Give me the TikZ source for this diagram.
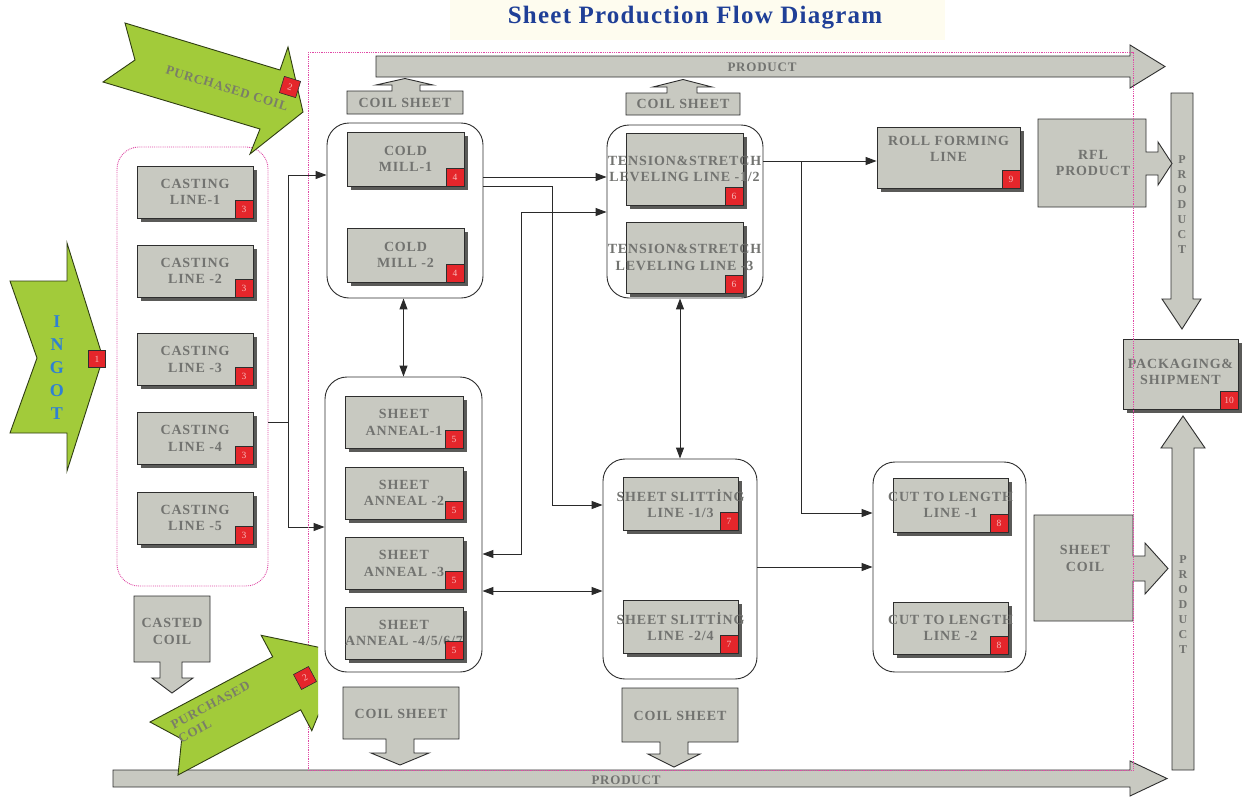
\documentclass[tikz,border=0pt]{standalone}
\usepackage{fontspec}
\setmainfont{Liberation Serif}
\newfontfamily\lblfont[LetterSpace=6]{Liberation Serif}
\newfontfamily\ttlfont[LetterSpace=5]{Liberation Serif}
\usetikzlibrary{arrows.meta,shadows}

\definecolor{boxgray}{HTML}{C8C9C1}
\definecolor{txtgray}{HTML}{727370}
\definecolor{shadowc}{HTML}{5A5A58}
\definecolor{edgec}{HTML}{2E2E2E}
\definecolor{linec}{HTML}{2A2A2A}
\definecolor{badgered}{HTML}{E5262B}
\definecolor{badgetxt}{HTML}{F7B9B9}
\definecolor{greenc}{HTML}{A2CB3A}
\definecolor{greenedge}{HTML}{2F3D12}
\definecolor{pinkc}{HTML}{E04AA6}
\definecolor{titleblue}{HTML}{1F3F97}
\definecolor{ingotblue}{HTML}{2F80D4}
\definecolor{titlebg}{HTML}{FEFCEF}
\definecolor{greentxt}{HTML}{7A7E68}

% process box: grey box, label on top, red number badge in its lower right corner
\newcommand\pbox[7]{%
  \node[proc, minimum width=#4pt, minimum height=#5pt] (#1) at (#2,#3) {};
  \node[lbl] at (#1.center) {#6};
  \node[badge, anchor=south east] (#1n) at (#1.south east) {#7};
}

\begin{document}
\begin{tikzpicture}[x=1pt,y=-1pt,
  proc/.style={draw=edgec, line width=0.8pt, fill=boxgray, inner sep=0pt,
    drop shadow={shadow xshift=3.5pt, shadow yshift=-3.5pt, fill=shadowc, opacity=1}},
  lbl/.style={font=\lblfont\bfseries\fontsize{14}{16.5}\selectfont, text=txtgray,
    align=center, inner sep=0pt},
  badge/.style={draw=edgec, line width=0.6pt, fill=badgered, minimum size=18pt,
    inner sep=0pt, font=\fontsize{9.5}{9.5}\selectfont, text=badgetxt},
  group/.style={draw=edgec, line width=0.9pt, rounded corners=22pt, inner sep=0pt},
  pinkgroup/.style={draw=pinkc, densely dotted, line width=0.9pt, rounded corners=22pt, inner sep=0pt},
  bigarrow/.style={fill=boxgray, draw=edgec, line width=0.9pt, line join=miter},
  greenarrow/.style={fill=greenc, draw=greenedge, line width=0.9pt, line join=miter},
  conn/.style={draw=linec, line width=1pt},
  tip/.tip={Triangle[length=11pt,width=8pt]},
  prodtxt/.style={font=\lblfont\bfseries\fontsize{13}{15}\selectfont, text=txtgray, inner sep=0pt},
  vprod/.style={font=\bfseries\fontsize{12}{15}\selectfont, text=txtgray, align=center, inner sep=0pt},
  greenlbl/.style={font=\lblfont\bfseries\fontsize{13}{15.5}\selectfont, text=greentxt, inner sep=0pt}
]
\useasboundingbox (0,0) rectangle (1253,798);
\fill[white] (0,0) rectangle (1253,798);

% title
\fill[titlebg] (450,0) rectangle (945,40);
\node[font=\ttlfont\bfseries\fontsize{25}{28}\selectfont, text=titleblue] (title) at (695,18) {Sheet Production Flow Diagram};

% product arrows along the border
\draw[bigarrow] (376,56) -- (1130,56) -- (1130,45) -- (1165,66.5) -- (1130,88) -- (1130,77) -- (376,77) -- cycle;
\node[prodtxt] (ptop) at (762,67) {PRODUCT};
\draw[bigarrow] (113,770) -- (1130,770) -- (1130,761) -- (1167,778.5) -- (1130,796) -- (1130,787) -- (113,787) -- cycle;
\node[prodtxt] (pbot) at (626,780) {PRODUCT};
\draw[bigarrow] (1171,93) -- (1193,93) -- (1193,299) -- (1201,299) -- (1182,329) -- (1162,299) -- (1171,299) -- cycle;
\node[vprod] (pv1) at (1182,204.5) {P\\R\\O\\D\\U\\C\\T};
\draw[bigarrow] (1172,770) -- (1194,770) -- (1194,448) -- (1205,448) -- (1183,416) -- (1161,448) -- (1172,448) -- cycle;
\node[vprod] (pv2) at (1183,605) {P\\R\\O\\D\\U\\C\\T};

% coil sheet outputs
\draw[bigarrow] (347,114) -- (347,91) -- (392,91) -- (392,85) -- (376,85) -- (405,78.5) -- (433,85) -- (420,85) -- (420,91) -- (463,91) -- (463,114) -- cycle;
\node[lbl] (cs1) at (405,102.5) {COIL SHEET};
\draw[bigarrow] (626,115) -- (626,93) -- (667,93) -- (667,87) -- (653,87) -- (683,79.5) -- (712,87) -- (697,87) -- (697,93) -- (740,93) -- (740,115) -- cycle;
\node[lbl] (cs2) at (683,104) {COIL SHEET};
\draw[bigarrow] (343,687) -- (459,687) -- (459,739) -- (414,739) -- (414,753) -- (429,753) -- (400,765) -- (371,753) -- (386,753) -- (386,739) -- (343,739) -- cycle;
\node[lbl] (cs3) at (401,714) {COIL SHEET};
\draw[bigarrow] (622,688) -- (738,688) -- (738,742) -- (688,742) -- (688,754) -- (700,754) -- (674,767) -- (648,754) -- (660,754) -- (660,742) -- (622,742) -- cycle;
\node[lbl] (cs4) at (680,716) {COIL SHEET};
\draw[bigarrow] (134,596) -- (210,596) -- (210,662) -- (182,662) -- (182,678) -- (193,678) -- (172,693) -- (152,678) -- (160,678) -- (160,662) -- (134,662) -- cycle;
\node[lbl] (cc) at (172,631.5) {CASTED\\COIL};

% groups
\node[pinkgroup, minimum width=151pt, minimum height=439pt] (castg) at (192.5,366.5) {};
\node[group, minimum width=156pt, minimum height=175pt] (cmg) at (405,210.5) {};
\node[group, minimum width=157pt, minimum height=295pt] (ang) at (403.5,524.5) {};
\node[group, minimum width=156pt, minimum height=173pt] (tsg) at (685,211.5) {};
\node[group, minimum width=154pt, minimum height=220pt] (slg) at (680,569) {};
\node[group, minimum width=153pt, minimum height=210pt] (ctg) at (949.5,567) {};

% casting lines
\pbox{cl1}{195}{192}{116}{52}{CASTING\\LINE-1}{3}
\pbox{cl2}{195}{271}{116}{52}{CASTING\\LINE -2}{3}
\pbox{cl3}{195}{359.5}{116}{52}{CASTING\\LINE -3}{3}
\pbox{cl4}{195}{438.5}{116}{52}{CASTING\\LINE -4}{3}
\pbox{cl5}{195}{518}{116}{52}{CASTING\\LINE -5}{3}
% cold mills
\pbox{cm1}{405.5}{159}{117}{54}{COLD\\MILL-1}{4}
\pbox{cm2}{405.5}{255}{117}{54}{COLD\\MILL -2}{4}
% sheet anneal
\pbox{an1}{404}{422.5}{118}{52}{SHEET\\ANNEAL-1}{5}
\pbox{an2}{404}{493}{118}{52}{SHEET\\ANNEAL -2}{5}
\pbox{an3}{404}{563.5}{118}{52}{SHEET\\ANNEAL -3}{5}
\pbox{an4}{404}{633}{118}{52}{SHEET\\ANNEAL -4/5/6/7}{5}
% tension and stretch leveling
\pbox{ts1}{684.5}{169}{117}{72}{TENSION\&STRETCH\\LEVELING LINE -1/2}{6}
\pbox{ts2}{684.5}{257.5}{117}{71}{TENSION\&STRETCH\\LEVELING LINE -3}{6}
% slitting
\pbox{sl1}{680.5}{503.5}{115}{53}{SHEET SLITTİNG\\LINE -1/3}{7}
\pbox{sl2}{680.5}{626.5}{115}{53}{SHEET SLITTİNG\\LINE -2/4}{7}
% cut to length
\pbox{ct1}{950.5}{505}{115}{54}{CUT TO LENGTH\\LINE -1}{8}
\pbox{ct2}{950.5}{628}{115}{52}{CUT TO LENGTH\\LINE -2}{8}
% roll forming
\node[proc, minimum width=143pt, minimum height=61pt] (rf) at (948.5,157.5) {};
\node[lbl] (rft) at (948.5,149) {ROLL FORMING\\LINE};
\node[badge, anchor=south east] (rfn) at (rf.south east) {9};
% packaging
\node[proc, minimum width=115pt, minimum height=70pt] (pk) at (1180.5,374) {};
\node[lbl] (pkt) at (1180.5,372) {PACKAGING\&\\SHIPMENT};
\node[badge, anchor=south east] (pkn) at (pk.south east) {10};

% connectors
\coordinate (jc) at (288,422);
\coordinate (a1) at (288,175);
\coordinate (a2) at (288,527);
\draw[conn] (castg.east |- jc) -- (jc);
\draw[conn,-tip] (jc) -- (a1) -- (a1 -| cmg.west);
\draw[conn,-tip] (jc) -- (a2) -- (a2 -| ang.west);
\draw[conn,tip-tip] (ang.north |- cmg.south) -- (ang.north);

\coordinate (b1) at (545,177);
\draw[conn,-tip] (b1 -| cmg.east) -- (b1 -| tsg.west);
\coordinate (b2) at (552,186);
\coordinate (b3) at (552,505);
\draw[conn,-tip] (b2 -| cmg.east) -- (b2) -- (b3) -- (b3 -| slg.west);
\coordinate (b4) at (521,212);
\coordinate (b5) at (521,554);
\draw[conn,tip-tip] (b4 -| tsg.west) -- (b4) -- (b5) -- (b5 -| ang.east);
\coordinate (b6) at (540,591);
\draw[conn,tip-tip] (b6 -| ang.east) -- (b6 -| slg.west);
\draw[conn,tip-tip] (slg.north |- tsg.south) -- (slg.north);

\coordinate (c1) at (801,161);
\coordinate (c2) at (801,513);
\draw[conn,-tip] (c1 -| tsg.east) -- (c1 -| rf.west);
\draw[conn,-tip] (c1) -- (c2) -- (c2 -| ctg.west);
\coordinate (c3) at (801,567);
\draw[conn,-tip] (c3 -| slg.east) -- (c3 -| ctg.west);

% finished product boxes
\draw[bigarrow] (1038,119) -- (1146,119) -- (1146,152) -- (1158,152) -- (1158,142) -- (1172,163.5) -- (1158,185) -- (1158,175) -- (1146,175) -- (1146,207) -- (1038,207) -- cycle;
\node[lbl] (rfl) at (1093,163) {RFL\\PRODUCT};
\draw[bigarrow] (1034,515) -- (1133,515) -- (1133,556) -- (1145,556) -- (1145,543) -- (1168,568.5) -- (1145,594) -- (1145,581) -- (1133,581) -- (1133,621) -- (1034,621) -- cycle;
\node[lbl] (scl) at (1085,558.5) {SHEET\\COIL};

% plant boundary
\draw[pinkc, densely dotted, line width=0.8pt] (308,52) rectangle (1133,770);

% raw material inputs
\draw[greenarrow] (10,281) -- (67,281) -- (67,243) -- (103,358) -- (67,471) -- (67,433) -- (10,433) -- (37,358) -- cycle;
\node[font=\bfseries\fontsize{18}{23}\selectfont, text=ingotblue, align=center, inner sep=0pt] (ingot) at (57,368) {I\\N\\G\\O\\T};
\node[badge, minimum size=17pt] (ingotn) at (97,359) {1};

\draw[greenarrow] (125,23) -- (280,70) -- (288,47) -- (303,112) -- (250,154) -- (260,129) -- (103,82) -- (135,60) -- cycle;
\node[greenlbl, rotate=-17] (pc1) at (227,88) {PURCHASED COIL};
\node[badge, minimum size=17pt, rotate=-17] (pc1n) at (290,87) {2};

\begin{scope}
  \clip (0,600) rectangle (318,798);
  \draw[greenarrow] (150,722) -- (272.7,656.8) -- (261.2,635.3) -- (343.9,652.5) -- (311.8,730.7) -- (300.7,709.8) -- (178,775) -- (181.7,739) -- cycle;
\end{scope}
\node[greenlbl, rotate=28, align=left] (pc2) at (214,712) {PURCHASED\\COIL};
\node[badge, minimum size=17pt, rotate=28] (pc2n) at (305,678) {2};
\end{tikzpicture}
\end{document}
